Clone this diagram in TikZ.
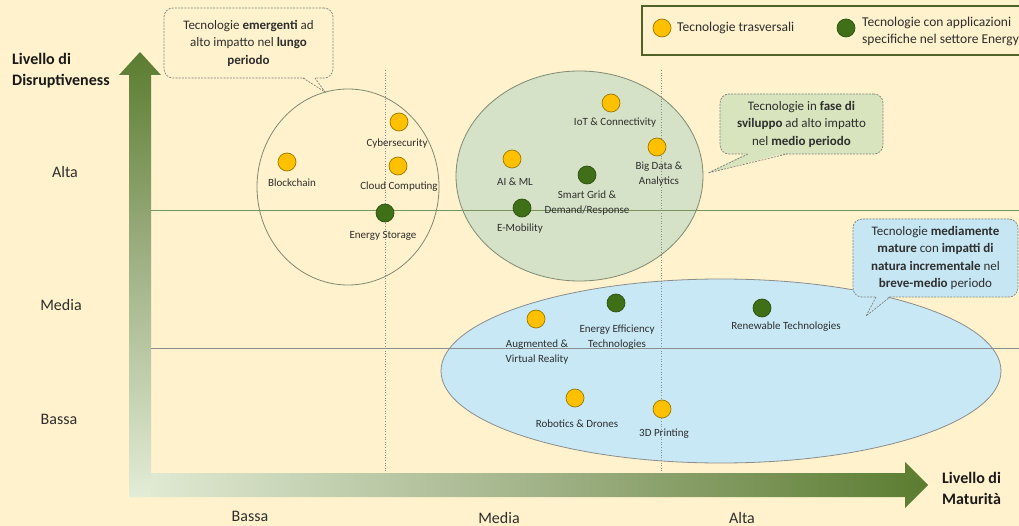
\documentclass[tikz,border=0pt]{standalone}
\usepackage{fontspec}
\setmainfont{Carlito}
\usetikzlibrary{calc}
\definecolor{bg}{HTML}{FFF2CC}
\definecolor{agreen}{HTML}{5B7C30}
\definecolor{amid}{HTML}{A3B48A}
\definecolor{apale}{HTML}{E3ECD6}
\definecolor{dotyel}{HTML}{FFC000}
\definecolor{dotyelb}{HTML}{9A7800}
\definecolor{dotgrn}{HTML}{3F7017}
\definecolor{dotgrnb}{HTML}{2C5010}
\definecolor{midfill}{HTML}{D6E2C7}
\definecolor{lowfill}{HTML}{C8E8F5}
\definecolor{call2fill}{HTML}{D7E4BD}
\definecolor{call3fill}{HTML}{C6E6F3}
\definecolor{ellline}{HTML}{7F8A72}
\definecolor{gridg}{HTML}{78935E}
\definecolor{gridb}{HTML}{8C8F92}
\definecolor{txt}{HTML}{2E2E2E}
\definecolor{legline}{HTML}{4F6228}
\begin{document}
\begin{tikzpicture}[x=1pt,y=-1pt,
  ydot/.style={circle,minimum size=18pt,inner sep=0pt,fill=dotyel,draw=dotyelb,line width=0.7pt},
  gdot/.style={circle,minimum size=18pt,inner sep=0pt,fill=dotgrn,draw=dotgrnb,line width=0.7pt},
  lbl/.style={inner sep=0pt,align=center,text=txt,font=\fontsize{11}{14.5}\selectfont},
  lvl/.style={inner sep=0pt,text=txt,font=\fontsize{16}{20}\selectfont},
  axlbl/.style={inner sep=0pt,align=left,anchor=west,text=black!90,font=\bfseries\fontsize{16}{21}\selectfont},
  legtxt/.style={inner sep=0pt,align=left,anchor=west,text=txt,font=\fontsize{13.5}{17}\selectfont},
  callbox/.style={draw=black!50,dash pattern=on 2pt off 1.2pt,line width=0.7pt,rounded corners=9pt,
    inner sep=0pt,align=center,text=txt,font=\fontsize{13}{17.5}\selectfont},
  callptr/.style={draw=black!50,dash pattern=on 2pt off 1.2pt,line width=0.7pt},
  ell/.style={draw=ellline,line width=0.8pt},
  vgrid/.style={draw=black!45,dotted,line width=0.6pt}
]
\useasboundingbox (0,0) rectangle (1019,526);
\fill[bg] (0,0) rectangle (1019,526);

% ellipses
\draw[ell] (348,187) ellipse [x radius=91, y radius=98];
\filldraw[ell,fill=midfill] (579.5,176) ellipse [x radius=123.5, y radius=105];
\filldraw[ell,fill=lowfill,draw=black!45] (721,371) ellipse [x radius=280, y radius=92];

% grid lines
\draw[gridg,line width=0.7pt] (151,210) -- (1019,210);
\draw[gridb,line width=0.7pt] (151,348) -- (1019,348);
\draw[vgrid] (385,70) -- (385,473);
\draw[vgrid] (661,70) -- (661,473);

% arrows
\shade[left color=apale,right color=agreen,middle color=amid]
  (129,473) -- (905,473) -- (905,462) -- (928,485) -- (905,508) -- (905,497) -- (129,497) -- cycle;
\shade[top color=agreen,bottom color=apale,middle color=amid]
  (129,497) -- (129,75) -- (119,75) -- (140,52) -- (161,75) -- (151,75) -- (151,497) -- cycle;

% axis labels
\node[axlbl] (ylab) at (12,71) {Livello di\\Disruptiveness};
\node[axlbl] (xlab) at (942,488) {Livello di\\Maturità};
\node[lvl] (yalta) at (65,172) {Alta};
\node[lvl] (ymedia) at (61,305) {Media};
\node[lvl] (ybassa) at (59,419) {Bassa};
\node[lvl] (xbassa) at (250,516) {Bassa};
\node[lvl] (xmedia) at (499,518) {Media};
\node[lvl] (xalta) at (742,518) {Alta};

% legend
\draw[legline,line width=1.6pt,fill=bg] (642,6) rectangle (1024,55);
\node[ydot] (legy) at (662,28) {};
\node[legtxt] (legyt) at (677,28) {Tecnologie trasversali};
\node[gdot] (legg) at (846,28) {};
\node[legtxt] (leggt) at (862,31) {Tecnologie con applicazioni\\specifiche nel settore Energy};

% callouts
\node[callbox,fill=bg,minimum width=169pt,minimum height=70pt] (c1) at (248.5,43)
  {Tecnologie \textbf{emergenti} ad\\alto impatto nel \textbf{lungo}\\\textbf{periodo}};
\coordinate (c1a) at (303,78); \coordinate (c1t) at (325,92); \coordinate (c1b) at (315,78);
\fill[bg] ($(c1a)+(0,-1.5)$) -- (c1t) -- ($(c1b)+(0,-1.5)$) -- cycle;
\draw[callptr] (c1a) -- (c1t) -- (c1b);

\node[callbox,fill=call2fill,minimum width=163pt,minimum height=60pt] (c2) at (801.5,124)
  {Tecnologie in \textbf{fase di}\\\textbf{sviluppo} ad alto impatto\\nel \textbf{medio periodo}};
\coordinate (c2a) at (748,154); \coordinate (c2t) at (708,173); \coordinate (c2b) at (787,154);
\fill[call2fill] ($(c2a)+(0,-1.5)$) -- (c2t) -- ($(c2b)+(0,-1.5)$) -- cycle;
\draw[callptr] (c2a) -- (c2t) -- (c2b);

\node[callbox,fill=call3fill,minimum width=165pt,minimum height=78pt] (c3) at (935.5,258)
  {Tecnologie \textbf{mediamente}\\\textbf{mature} con \textbf{impatti di}\\\textbf{natura incrementale} nel\\\textbf{breve-medio} periodo};
\coordinate (c3a) at (876,297); \coordinate (c3t) at (866,316); \coordinate (c3b) at (890,297);
\fill[call3fill] ($(c3a)+(0,-1.5)$) -- (c3t) -- ($(c3b)+(0,-1.5)$) -- cycle;
\draw[callptr] (c3a) -- (c3t) -- (c3b);

% technologies
\node[ydot] (blk) at (287,162) {};
\node[lbl] (blkl) at (292,183) {Blockchain};
\node[ydot] (cyb) at (399,122) {};
\node[lbl] (cybl) at (397,144) {Cybersecurity};
\node[ydot] (cld) at (398,166) {};
\node[lbl] (cldl) at (399,187) {Cloud Computing};
\node[gdot] (est) at (385,213) {};
\node[lbl] (estl) at (383,236) {Energy Storage};
\node[ydot] (aiml) at (512,159) {};
\node[lbl] (aimll) at (515,182) {AI \& ML};
\node[gdot] (sgd) at (587,175) {};
\node[lbl] (sgdl) at (587,203) {Smart Grid \&\\Demand/Response};
\node[gdot] (emo) at (522,208) {};
\node[lbl] (emol) at (520,229) {E-Mobility};
\node[ydot] (iot) at (611,103) {};
\node[lbl] (iotl) at (615,123) {IoT \& Connectivity};
\node[ydot] (bda) at (657,147) {};
\node[lbl] (bdal) at (659,174) {Big Data \&\\Analytics};
\node[ydot] (avr) at (536,319) {};
\node[lbl] (avrl) at (537,352) {Augmented \&\\Virtual Reality};
\node[gdot] (eet) at (616,303) {};
\node[lbl] (eetl) at (617,337) {Energy Efficiency\\Technologies};
\node[gdot] (ren) at (762,308) {};
\node[lbl] (renl) at (786,327) {Renewable Technologies};
\node[ydot] (rob) at (575,398) {};
\node[lbl] (robl) at (577,424) {Robotics \& Drones};
\node[ydot] (tdp) at (662,409) {};
\node[lbl] (tdpl) at (664,434) {3D Printing};
\end{tikzpicture}
\end{document}
